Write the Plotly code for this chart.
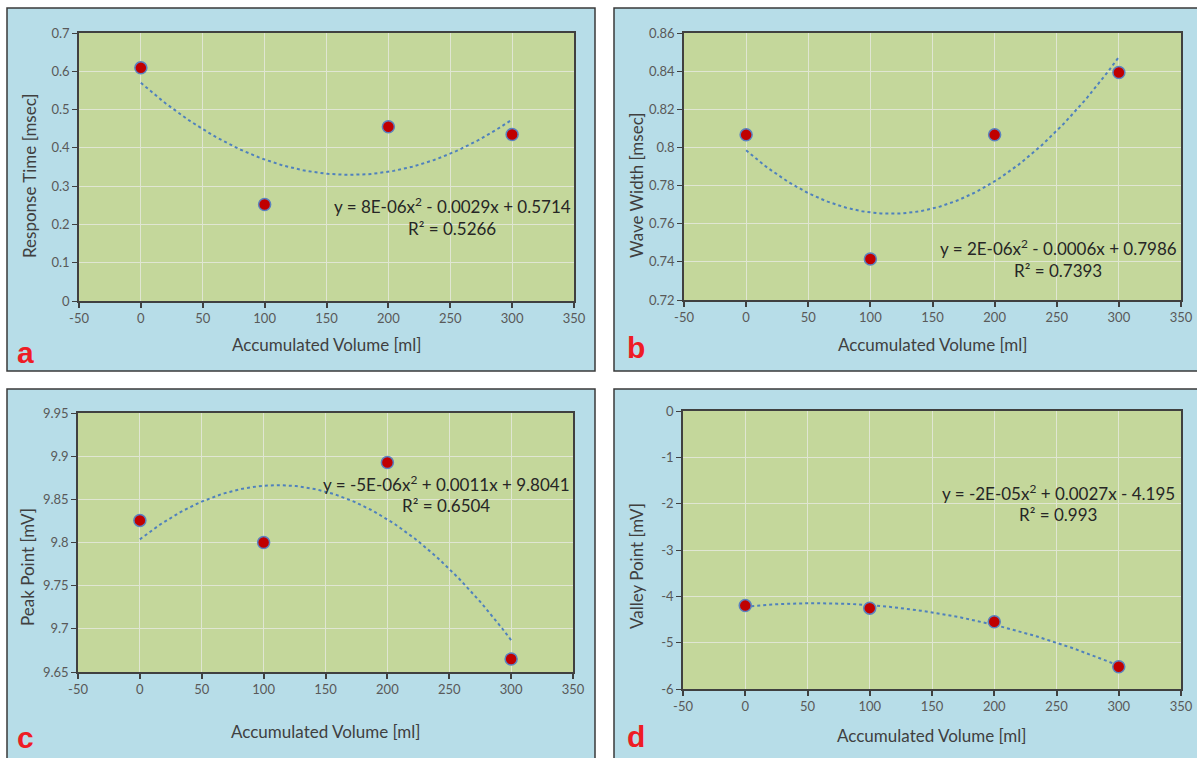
import numpy as np
import plotly.graph_objects as go

W, H = 1197, 758

# ---------------- data ----------------
volume = [0, 100, 200, 300]
response_time = [0.609, 0.252, 0.455, 0.435]
wave_width = [0.8066, 0.7415, 0.8066, 0.8393]
peak_point = [9.8256, 9.800, 9.8926, 9.665]
valley_point = [-4.20, -4.255, -4.55, -5.52]

x_ticks = [-50, 0, 50, 100, 150, 200, 250, 300, 350]
a_ticks = [0, 0.1, 0.2, 0.3, 0.4, 0.5, 0.6, 0.7]
a_ticktext = ["0", "0.1", "0.2", "0.3", "0.4", "0.5", "0.6", "0.7"]
b_ticks = [0.72, 0.74, 0.76, 0.78, 0.80, 0.82, 0.84, 0.86]
b_ticktext = ["0.72", "0.74", "0.76", "0.78", "0.8", "0.82", "0.84", "0.86"]
c_ticks = [9.65, 9.70, 9.75, 9.80, 9.85, 9.90, 9.95]
c_ticktext = ["9.65", "9.7", "9.75", "9.8", "9.85", "9.9", "9.95"]
d_ticks = [-6, -5, -4, -3, -2, -1, 0]
d_ticktext = ["-6", "-5", "-4", "-3", "-2", "-1", "0"]

y_titles = ["Response Time [msec]", "Wave Width [msec]", "Peak Point [mV]", "Valley Point [mV]"]
x_title = "Accumulated Volume [ml]"
equations = [
    "y = 8E-06x<sup>2</sup> - 0.0029x + 0.5714",
    "y = 2E-06x<sup>2</sup> - 0.0006x + 0.7986",
    "y = -5E-06x<sup>2</sup> + 0.0011x + 9.8041",
    "y = -2E-05x<sup>2</sup> + 0.0027x - 4.195",
]
r2_texts = ["R² = 0.5266", "R² = 0.7393", "R² = 0.6504", "R² = 0.993"]
panel_labels = ["a", "b", "c", "d"]

# ---------------- layout geometry (pixels) ----------------
panels = [(7, 8, 595, 371), (614, 8, 1203, 371), (7, 389, 595, 764), (614, 389, 1203, 764)]
plots = [(79, 33, 574, 301), (684, 33, 1181, 300), (78, 413, 573, 672), (683, 411, 1181, 689)]
ytitle_pos = [(30, 176), (636, 185), (27, 567), (636, 566)]
xtitle_y = [345, 345, 731, 735]
eq_pos = [(452, 206), (1058, 248), (446, 483), (1058, 492)]
label_pos = [(25, 352), (636, 347), (25, 737), (636, 736)]

series = [response_time, wave_width, peak_point, valley_point]
ranges = [(0, 0.7), (0.72, 0.86), (9.65, 9.95), (-6, 0)]
yticks = [(a_ticks, a_ticktext), (b_ticks, b_ticktext), (c_ticks, c_ticktext), (d_ticks, d_ticktext)]

FONT = "Lato, 'Open Sans', sans-serif"
BLUE_BG = "#b7dde8"
GREEN_BG = "#c4d79b"
GRID = "#e0e6d2"
AXIS = "#404040"
TICKFONT = dict(family=FONT, size=13, color="#595959")


def px(x):
    return x / W


def py(y):
    return 1 - y / H


fig = go.Figure()
shapes = []
annotations = []

for i in range(4):
    xa = "x" if i == 0 else f"x{i+1}"
    ya = "y" if i == 0 else f"y{i+1}"
    xname = "xaxis" if i == 0 else f"xaxis{i+1}"
    yname = "yaxis" if i == 0 else f"yaxis{i+1}"
    l, t, r, b = plots[i]
    pl, pt, pr, pb = panels[i]

    shapes.append(dict(type="rect", xref="paper", yref="paper",
                       x0=px(pl), x1=px(pr), y0=py(pb), y1=py(pt),
                       fillcolor=BLUE_BG, line=dict(color="#3a3a3a", width=1.5), layer="below"))
    shapes.append(dict(type="rect", xref=f"{xa} domain", yref=f"{ya} domain",
                       x0=0, x1=1, y0=0, y1=1,
                       fillcolor=GREEN_BG, line=dict(width=0), layer="below"))

    ys = series[i]
    coef = np.polyfit(volume, ys, 2)
    xs = np.linspace(min(volume), max(volume), 120)
    fig.add_trace(go.Scatter(x=xs, y=np.polyval(coef, xs), mode="lines",
                             line=dict(color="#4f81bd", width=2, dash="dot"),
                             xaxis=xa, yaxis=ya, showlegend=False, hoverinfo="skip"))
    fig.add_trace(go.Scatter(x=volume, y=ys, mode="markers",
                             marker=dict(color="#c00000", size=12,
                                         line=dict(color="#5b82c0", width=1.5)),
                             xaxis=xa, yaxis=ya, showlegend=False))

    fig.layout[xname] = dict(domain=[px(l), px(r)], anchor=ya, range=[-50, 350],
                             tickvals=x_ticks, ticktext=[str(v) for v in x_ticks],
                             showgrid=True, gridcolor=GRID, gridwidth=1,
                             showline=True, linecolor=AXIS, linewidth=1.5, mirror=True,
                             ticks="outside", ticklen=5, tickwidth=1.5, tickcolor=AXIS,
                             tickfont=TICKFONT, zeroline=False, fixedrange=True,
                             automargin=False)
    tv, tt = yticks[i]
    fig.layout[yname] = dict(domain=[py(b), py(t)], anchor=xa, range=list(ranges[i]),
                             tickvals=tv, ticktext=tt,
                             showgrid=True, gridcolor=GRID, gridwidth=1,
                             showline=True, linecolor=AXIS, linewidth=1.5, mirror=True,
                             ticks="outside", ticklen=5, tickwidth=1, tickcolor=AXIS,
                             tickfont=TICKFONT, zeroline=False, fixedrange=True,
                             automargin=False)

    annotations.append(dict(text=y_titles[i], xref="paper", yref="paper",
                            x=px(ytitle_pos[i][0]), y=py(ytitle_pos[i][1]),
                            textangle=-90, showarrow=False, xanchor="center", yanchor="middle",
                            font=dict(family=FONT, size=17, color="#404040")))
    annotations.append(dict(text=x_title, xref="paper", yref="paper",
                            x=px((l + r) / 2), y=py(xtitle_y[i]),
                            showarrow=False, xanchor="center", yanchor="middle",
                            font=dict(family=FONT, size=17, color="#404040")))
    ex, ey = eq_pos[i]
    annotations.append(dict(text=equations[i], xref="paper", yref="paper",
                            x=px(ex), y=py(ey), showarrow=False, xanchor="center", yanchor="middle",
                            font=dict(family=FONT, size=17, color="#262626")))
    annotations.append(dict(text=r2_texts[i], xref="paper", yref="paper",
                            x=px(ex), y=py(ey + 22), showarrow=False, xanchor="center", yanchor="middle",
                            font=dict(family=FONT, size=17, color="#262626")))
    lx, ly = label_pos[i]
    annotations.append(dict(text=f"<b>{panel_labels[i]}</b>", xref="paper", yref="paper",
                            x=px(lx), y=py(ly), showarrow=False, xanchor="center", yanchor="middle",
                            font=dict(family="'Liberation Sans', Arial, sans-serif", size=30, color="#ee1c25")))

fig.update_layout(width=W, height=H, margin=dict(l=0, r=0, t=0, b=0, autoexpand=False),
                  paper_bgcolor="white", plot_bgcolor="rgba(0,0,0,0)",
                  shapes=shapes, annotations=annotations, showlegend=False,
                  font=dict(family=FONT))

fig.write_html("out.html", config={"displayModeBar": False})
